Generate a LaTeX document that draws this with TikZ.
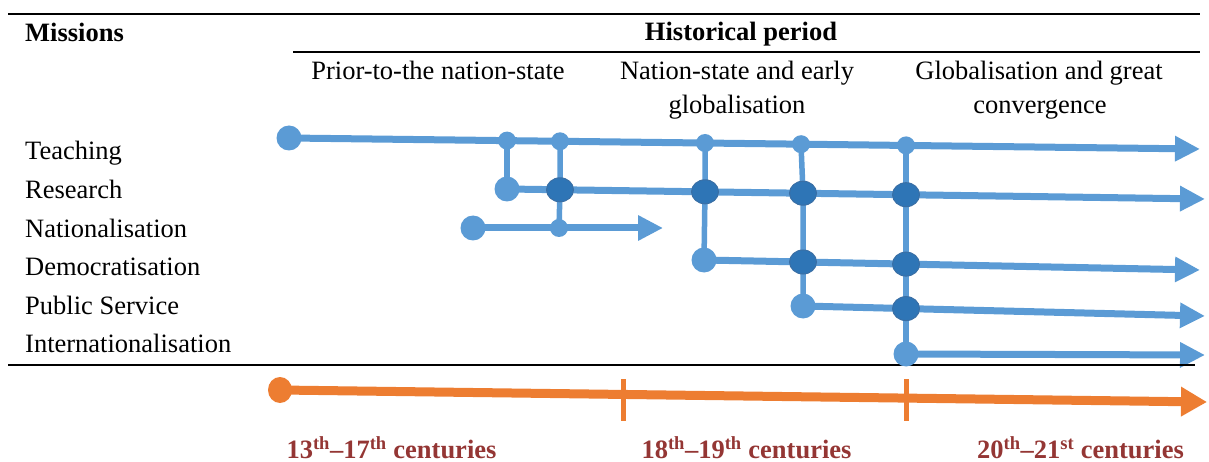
\documentclass[tikz,border=0pt]{standalone}
\usepackage{fontspec}
\setmainfont{Liberation Serif}
\usetikzlibrary{arrows.meta,backgrounds,shapes.geometric}
\definecolor{lblue}{HTML}{5B9BD5}
\definecolor{dblue}{HTML}{2E75B6}
\definecolor{dborder}{HTML}{3A6FA5}
\definecolor{orng}{HTML}{ED7D31}
\definecolor{dred}{HTML}{943634}
\begin{document}
\begin{tikzpicture}[x=1pt,y=-1pt,
  txt/.style={inner sep=0pt,font=\fontsize{26.5}{32}\selectfont},
  bold/.style={txt,font=\fontsize{26.5}{32}\selectfont\bfseries},
  cent/.style={bold,text=dred},
  bigdot/.style={circle,fill=lblue,minimum size=25pt,inner sep=0pt},
  smalldot/.style={circle,fill=lblue,minimum size=18pt,inner sep=0pt},
  darkdot/.style={ellipse,fill=dblue,draw=dborder,line width=1pt,minimum width=27pt,minimum height=24pt,inner sep=0pt},
  hline/.style={draw=lblue,line width=7pt},
  vline/.style={draw=lblue,line width=5.5pt},
  btip/.style={-{Triangle[length=25pt,width=24pt]}},
  rule/.style={draw=black,line width=2pt},
]
\useasboundingbox (0,0) rectangle (1209,462);
% rules
\draw[rule] (8,14) -- (1200,14);
\draw[rule] (293,52) -- (1200,52);
\draw[rule] (8,365) -- (1195,365);
% headings
\node[bold,anchor=base west] (missions) at (25,42) {Missions};
\node[bold,anchor=base] (hist) at (741,41) {Historical period};
\node[txt,anchor=base] (p1) at (438,80) {Prior-to-the nation-state};
\node[txt,anchor=base] (p2a) at (737,80) {Nation-state and early};
\node[txt,anchor=base] (p2b) at (737,114) {globalisation};
\node[txt,anchor=base] (p3a) at (1039,80) {Globalisation and great};
\node[txt,anchor=base] (p3b) at (1040,114) {convergence};
% mission labels
\node[txt,anchor=base west] (lT) at (25,160) {Teaching};
\node[txt,anchor=base west] (lR) at (25,198.5) {Research};
\node[txt,anchor=base west] (lN) at (25,237) {Nationalisation};
\node[txt,anchor=base west] (lD) at (25,275.5) {Democratisation};
\node[txt,anchor=base west] (lP) at (25,314) {Public Service};
\node[txt,anchor=base west] (lI) at (25,352.5) {Internationalisation};
% dots: teaching
\node[bigdot] (t0) at (289,138) {};
\node[smalldot] (t507) at (507,140.6) {};
\node[smalldot] (t560) at (560,141.3) {};
\node[smalldot] (t705) at (705,143.0) {};
\node[smalldot] (t800) at (801,144.2) {};
\node[smalldot] (t906) at (906,145.4) {};
\coordinate (tE) at (1200,149);
% research
\node[bigdot] (r0) at (507,189) {};
\node[darkdot] (r560) at (560,189.8) {};
\node[darkdot] (r705) at (705,191.8) {};
\node[darkdot] (r803) at (803,193.2) {};
\node[darkdot] (r906) at (906,194.7) {};
\coordinate (rE) at (1205,199);
% nationalisation
\node[bigdot] (n0) at (473,228) {};
\node[smalldot] (n560) at (559,228) {};
\coordinate (nE) at (663,228);
% democratisation
\node[bigdot] (d0) at (704,260) {};
\node[darkdot] (d803) at (803,262) {};
\node[darkdot] (d906) at (906,264.1) {};
\coordinate (dE) at (1200,270);
% public service
\node[bigdot] (s0) at (803,306) {};
\node[darkdot] (s906) at (906,308.6) {};
\coordinate (sE) at (1205,316);
% internationalisation
\node[bigdot] (i0) at (906,354) {};
\coordinate (iE) at (1205,355);
% lines
\begin{scope}[on background layer]
\draw[hline,btip] (t0.center) -- (tE);
\draw[hline,btip] (r0.center) -- (rE);
\draw[hline,btip] (n0.center) -- (nE);
\draw[hline,btip] (d0.center) -- (dE);
\draw[hline,btip] (s0.center) -- (sE);
\draw[hline,btip] (i0.center) -- (iE);
\draw[vline] (t507.center) -- (r0.center);
\draw[vline] (t560.center) -- (r560.center) -- (n560.center);
\draw[vline] (t705.center) -- (r705.center) -- (d0.center);
\draw[vline] (t800.center) -- (r803.center) -- (d803.center) -- (s0.center);
\draw[vline] (t906.center) -- (r906.center) -- (d906.center) -- (s906.center) -- (i0.center);
\end{scope}
% orange timeline
\node[ellipse,fill=orng,minimum width=24pt,minimum height=26pt,inner sep=0pt] (o0) at (280,390) {};
\coordinate (oE) at (1207,402);
\begin{scope}[on background layer]
\draw[draw=orng,line width=9pt,-{Triangle[length=26pt,width=28pt]}] (o0.center) -- (oE);
\end{scope}
\coordinate (k1a) at (623,379);
\coordinate (k1b) at (623,421);
\coordinate (k2a) at (906,379);
\coordinate (k2b) at (906,421);
\draw[draw=orng,line width=5pt] (k1a) -- (k1b);
\draw[draw=orng,line width=5pt] (k2a) -- (k2b);
% century labels
\node[cent,anchor=base] (c1) at (391.5,458.5) {13\textsuperscript{th}–17\textsuperscript{th} centuries};
\node[cent,anchor=base] (c2) at (746.5,458.5) {18\textsuperscript{th}–19\textsuperscript{th} centuries};
\node[cent,anchor=base] (c3) at (1080.5,458.5) {20\textsuperscript{th}–21\textsuperscript{st} centuries};
\end{tikzpicture}
\end{document}
